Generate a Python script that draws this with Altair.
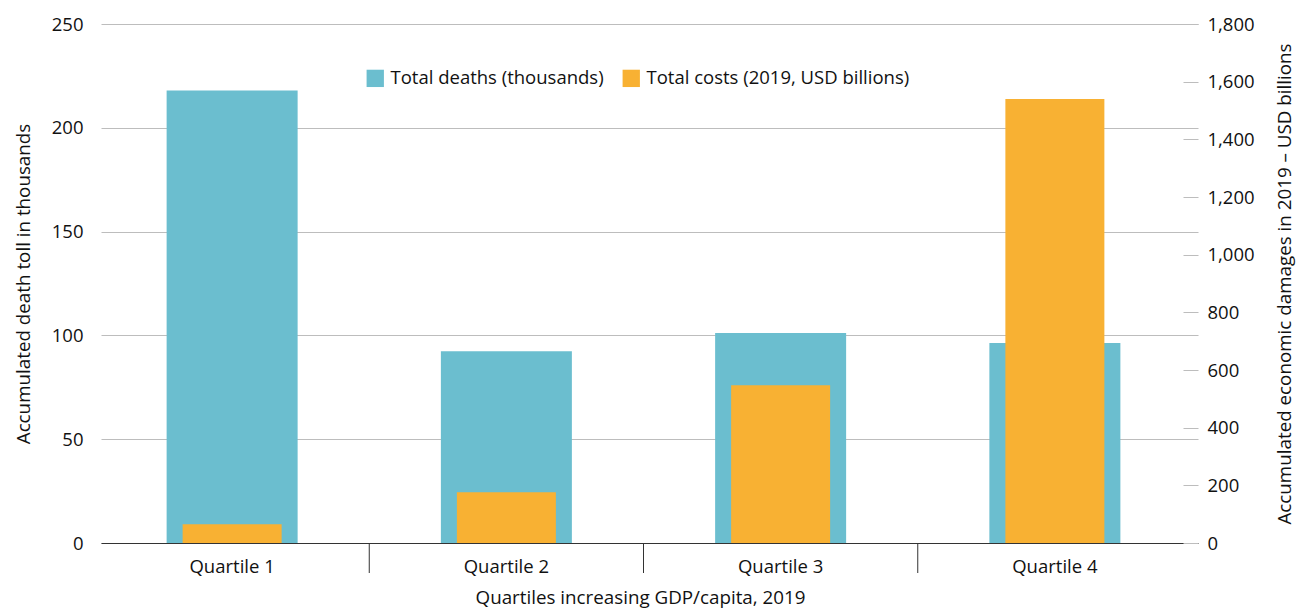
import altair as alt
import pandas as pd

quartiles = ["Quartile 1", "Quartile 2", "Quartile 3", "Quartile 4"]
deaths = [218.0, 92.4, 101.1, 96.3]          # thousands
costs = [65, 176, 547, 1540]                 # 2019 USD billions
boundaries = ["Quartile 2", "Quartile 3", "Quartile 4"]

deaths_label = "Total deaths (thousands)"
costs_label = "Total costs (2019, USD billions)"

df = pd.DataFrame({"q": quartiles, "deaths": deaths, "costs": costs})
bdf = pd.DataFrame({"q": boundaries})

FONT = "Open Sans"
BLUE = "#6BBECF"
ORANGE = "#F8B133"
W, H = 1097, 519
SHIFT = -6
LBL = 18.5
TTL = 18.8

color_scale = alt.Scale(domain=[deaths_label, costs_label], range=[BLUE, ORANGE])
legend = alt.Legend(title=None, orient="none", direction="horizontal",
                    legendX=265, legendY=45, symbolType="square",
                    symbolSize=300, symbolStrokeWidth=0,
                    labelFontSize=LBL, labelFont=FONT, labelColor="#111",
                    labelLimit=0, columnPadding=18, labelOffset=6)

xenc = alt.X(
    "q:N",
    scale=alt.Scale(paddingInner=0, paddingOuter=0),
    axis=alt.Axis(
        title="Quartiles increasing GDP/capita, 2019",
        labelAngle=0,
        ticks=False,
        domainColor="#333333",
        labelPadding=14,
        labelOffset=SHIFT,
        titlePadding=13,
        titleX=539,
    ),
)

blue = alt.Chart(df).transform_calculate(series=f"'{deaths_label}'").mark_bar(size=131, xOffset=SHIFT).encode(
    x=xenc,
    y=alt.Y(
        "deaths:Q",
        scale=alt.Scale(domain=[0, 250], nice=False),
        axis=alt.Axis(
            title="Accumulated death toll in thousands",
            values=[0, 50, 100, 150, 200, 250],
            orient="left",
            ticks=False,
            domain=False,
            grid=True,
            gridColor="#BDBDBD",
            labelPadding=18,
            titlePadding=18,
        ),
    ),
    color=alt.Color("series:N", scale=color_scale, legend=legend),
)

orange = alt.Chart(df).transform_calculate(series=f"'{costs_label}'").mark_bar(size=99, xOffset=SHIFT).encode(
    x=alt.X("q:N"),
    y=alt.Y(
        "costs:Q",
        scale=alt.Scale(domain=[0, 1800], nice=False),
        axis=alt.Axis(
            title="Accumulated economic damages in 2019 – USD billions",
            orient="right",
            values=list(range(0, 1801, 200)),
            format=",d",
            grid=False,
            domain=False,
            ticks=True,
            tickSize=15,
            tickColor="#BDBDBD",
            offset=-15,
            labelPadding=9,
            titleAngle=270,
            titleBaseline="bottom",
            titlePadding=40,
        ),
    ),
    color=alt.Color("series:N", scale=color_scale, legend=legend),
)

rules = alt.Chart(bdf).mark_rule(color="#333333", strokeWidth=1, xOffset=SHIFT).encode(
    x=alt.X("q:N", bandPosition=0),
    y=alt.value(H),
    y2=alt.value(H + 30),
)

chart = (
    alt.layer(blue, orange, rules)
    .resolve_scale(y="independent")
    .properties(
        width=W,
        height=H,
        autosize=alt.AutoSizeParams(type="none"),
        padding={"left": 101, "top": 24, "right": 99, "bottom": 69},
    )
    .configure_view(stroke=None)
    .configure_axis(
        labelFont=FONT,
        titleFont=FONT,
        labelFontSize=LBL,
        titleFontSize=TTL,
        labelColor="#111",
        titleColor="#111",
        titleFontWeight="normal",
    )
)

chart.save("out.html", embed_options={"renderer": "svg", "actions": False})
